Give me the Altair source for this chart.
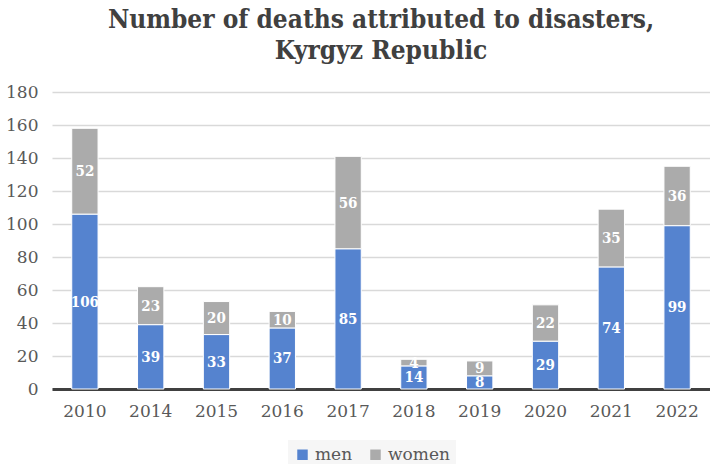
import altair as alt
import pandas as pd

years = ["2010", "2014", "2015", "2016", "2017", "2018", "2019", "2020", "2021", "2022"]
men = [106, 39, 33, 37, 85, 14, 8, 29, 74, 99]
women = [52, 23, 20, 10, 56, 4, 9, 22, 35, 36]
series = ["men", "women"]
colors = ["#5583CF", "#ABABAB"]
yticks = [0, 20, 40, 60, 80, 100, 120, 140, 160, 180]

rows = []
for i, y in enumerate(years):
    rows.append({"year": y, "sex": "men", "order": 0, "value": men[i]})
    rows.append({"year": y, "sex": "women", "order": 1, "value": women[i]})
df = pd.DataFrame(rows)

SERIF_C = "'DejaVu Serif Condensed', 'Liberation Serif', serif"
SERIF = "'DejaVu Serif', 'Liberation Serif', serif"

base = alt.Chart(df).transform_stack(
    stack="value", groupby=["year"], as_=["v0", "v1"],
    sort=[alt.SortField("order", order="ascending")]
).transform_calculate(mid="(datum.v0 + datum.v1) / 2")

xscale = alt.Scale(paddingInner=0.6, paddingOuter=0.3)
yscale = alt.Scale(domain=[0, 180], nice=False, zero=True)

xaxis = alt.Axis(labelAngle=0, labelFont=SERIF, labelFontSize=17,
                 labelColor="#595959", domainColor="#404040",
                 domainWidth=3, ticks=False, labelPadding=14)
yaxis = alt.Axis(values=yticks, labelFont=SERIF,
                 labelFontSize=17, labelColor="#595959",
                 labelOverlap=False, labelFlush=False,
                 domain=False, ticks=False, gridColor="#D9D9D9",
                 gridWidth=1.5, labelPadding=14)

bars = base.mark_bar(stroke="white", strokeWidth=1).encode(
    x=alt.X("year:N", sort=years, title=None, scale=xscale, axis=xaxis),
    y=alt.Y("v0:Q", title=None, scale=yscale, axis=yaxis),
    y2="v1:Q",
    color=alt.Color("sex:N", scale=alt.Scale(domain=series, range=colors),
                    legend=alt.Legend(title=None, orient="none", direction="horizontal",
                                      legendX=236, legendY=348, labelFont=SERIF,
                                      labelFontSize=17, labelColor="#595959",
                                      symbolType="square", symbolSize=110,
                                      symbolStrokeWidth=0, fillColor="#F6F6F6",
                                      padding=6, columnPadding=14)),
)

labels = base.mark_text(color="white", fontWeight="bold", font=SERIF_C, fontSize=15,
                        baseline="middle").encode(
    x=alt.X("year:N", sort=years, title=None, scale=xscale, axis=xaxis),
    y=alt.Y("mid:Q", title=None, scale=yscale, axis=yaxis),
    text="value:Q",
)

chart = alt.layer(bars, labels).properties(
    width=658, height=297,
    title=alt.TitleParams(
        ["Number of deaths attributed to disasters,", "Kyrgyz Republic"],
        font=SERIF_C, fontSize=26, fontWeight="bold", color="#404040",
        anchor="middle", frame="group", offset=19, lineHeight=31),
    autosize=alt.AutoSizeParams(type="none"),
    padding={"left": 52, "top": 92, "right": 0, "bottom": 75},
).configure_view(stroke=None)

chart.save("out.html", embed_options={"renderer": "svg", "actions": False})
